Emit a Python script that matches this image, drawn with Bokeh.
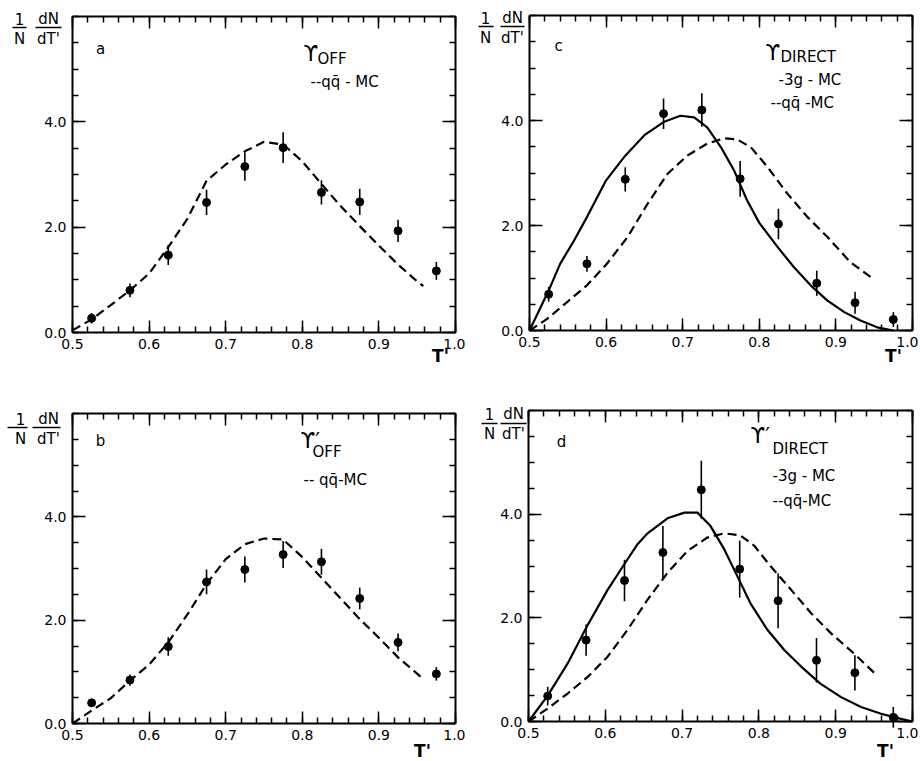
from bokeh.plotting import figure
from bokeh.models import (Range1d, LinearAxis, FixedTicker, PrintfTickFormatter,
                          CustomJSTickFormatter, Label, BoxAnnotation, ColumnDataSource)
from bokeh.layouts import column, row
from bokeh.embed import file_html
from bokeh.resources import INLINE

FONT = "DejaVu Sans"

# ---------------- data ----------------
T_BINS = [0.525, 0.575, 0.625, 0.675, 0.725, 0.775, 0.825, 0.875, 0.925, 0.975]

# panel a : Upsilon OFF
A_Y = [0.27, 0.80, 1.47, 2.47, 3.15, 3.51, 2.66, 2.48, 1.93, 1.17]
A_ERR = [0.10, 0.13, 0.19, 0.24, 0.27, 0.29, 0.23, 0.25, 0.21, 0.17]
A_QQ_X = [0.500, 0.525, 0.550, 0.575, 0.600, 0.625, 0.650, 0.675, 0.700, 0.725,
          0.750, 0.775, 0.800, 0.825, 0.850, 0.875, 0.900, 0.925, 0.950, 0.958]
A_QQ_Y = [0.04, 0.25, 0.52, 0.80, 1.12, 1.62, 2.16, 2.88, 3.19, 3.44,
          3.62, 3.57, 3.25, 2.82, 2.40, 2.02, 1.65, 1.29, 0.97, 0.88]

# panel b : Upsilon' OFF
B_Y = [0.40, 0.84, 1.49, 2.74, 2.98, 3.27, 3.13, 2.42, 1.57, 0.96]
B_ERR = [0.08, 0.11, 0.18, 0.24, 0.25, 0.26, 0.25, 0.21, 0.17, 0.13]
B_QQ_X = [0.500, 0.525, 0.550, 0.575, 0.600, 0.625, 0.650, 0.675, 0.700, 0.725,
          0.750, 0.775, 0.800, 0.825, 0.850, 0.875, 0.900, 0.925, 0.955]
B_QQ_Y = [0.00, 0.25, 0.49, 0.83, 1.14, 1.57, 2.11, 2.70, 3.18, 3.47,
          3.58, 3.56, 3.22, 2.82, 2.42, 2.02, 1.66, 1.28, 0.90]

# panel c : Upsilon DIRECT
C_Y = [0.69, 1.27, 2.88, 4.13, 4.20, 2.89, 2.03, 0.90, 0.53, 0.21]
C_ERR = [0.14, 0.15, 0.23, 0.29, 0.32, 0.34, 0.29, 0.24, 0.21, 0.14]
C_3G_X = [0.500, 0.525, 0.540, 0.558, 0.575, 0.600, 0.625, 0.650, 0.675, 0.697,
          0.715, 0.732, 0.750, 0.767, 0.784, 0.800, 0.825, 0.845, 0.867, 0.889,
          0.911, 0.932, 0.954, 0.975]
C_3G_Y = [0.00, 0.76, 1.27, 1.71, 2.16, 2.86, 3.33, 3.72, 3.97, 4.09,
          4.06, 3.87, 3.49, 3.05, 2.48, 2.05, 1.57, 1.21, 0.86, 0.57,
          0.35, 0.19, 0.06, 0.00]
C_QQ_X = [0.500, 0.523, 0.549, 0.575, 0.601, 0.628, 0.654, 0.680, 0.706, 0.732,
          0.754, 0.771, 0.789, 0.811, 0.837, 0.863, 0.889, 0.919, 0.949]
C_QQ_Y = [0.00, 0.22, 0.54, 0.86, 1.27, 1.78, 2.41, 2.98, 3.33, 3.56,
          3.66, 3.64, 3.49, 3.11, 2.60, 2.16, 1.78, 1.30, 0.98]

# panel d : Upsilon' DIRECT
D_Y = [0.49, 1.57, 2.72, 3.26, 4.47, 2.94, 2.33, 1.18, 0.94, 0.08]
D_ERR = [0.18, 0.30, 0.40, 0.51, 0.56, 0.55, 0.53, 0.43, 0.34, 0.20]
D_3G_X = [0.500, 0.525, 0.551, 0.577, 0.603, 0.629, 0.642, 0.655, 0.681, 0.703,
          0.720, 0.737, 0.755, 0.772, 0.789, 0.811, 0.833, 0.855, 0.880, 0.907,
          0.933, 0.959, 0.985, 1.000]
D_3G_Y = [0.00, 0.50, 1.12, 1.86, 2.54, 3.13, 3.42, 3.63, 3.92, 4.03,
          4.03, 3.77, 3.32, 2.80, 2.28, 1.77, 1.38, 1.06, 0.73, 0.47,
          0.28, 0.15, 0.05, 0.00]
D_QQ_X = [0.500, 0.525, 0.551, 0.577, 0.603, 0.629, 0.655, 0.681, 0.707, 0.733,
          0.755, 0.776, 0.794, 0.815, 0.842, 0.868, 0.894, 0.924, 0.950]
D_QQ_Y = [0.00, 0.25, 0.54, 0.86, 1.25, 1.77, 2.35, 2.87, 3.29, 3.55,
          3.63, 3.59, 3.39, 3.00, 2.54, 2.09, 1.70, 1.31, 0.94]

X_MAJOR = [0.5, 0.6, 0.7, 0.8, 0.9, 1.0]
X_MINOR = [round(0.5 + 0.02 * i, 2) for i in range(26)]
Y_MAJOR = [0.0, 2.0, 4.0]
Y_MINOR = [0.5 * i for i in range(13)]
X_LIM = (0.5, 1.0)
Y_LIM = (0.0, 6.0)


def make_panel(canvas, box, ys, errs, qq_x, qq_y, g3_x=None, g3_y=None,
               texts=(), frac=None, tlabel=None):
    """canvas / box = (left, top, right, bottom) in page pixels; the axes
    box is drawn with the library's axes placed at the data limits."""
    cx0, cy0, cx1, cy1 = canvas
    bx0, by0, bx1, by1 = box
    ppx = (bx1 - bx0) / (X_LIM[1] - X_LIM[0])
    ppy = (by1 - by0) / (Y_LIM[1] - Y_LIM[0])
    xr = Range1d(X_LIM[0] - (bx0 - cx0) / ppx, X_LIM[1] + (cx1 - bx1) / ppx)
    yr = Range1d(Y_LIM[0] - (cy1 - by1) / ppy, Y_LIM[1] + (by0 - cy0) / ppy)

    p = figure(x_range=xr, y_range=yr, width=cx1 - cx0, height=cy1 - cy0,
               min_border=0, min_border_left=0, min_border_right=0,
               min_border_top=0, min_border_bottom=0,
               x_axis_location=None, y_axis_location=None,
               output_backend="svg", toolbar_location=None,
               background_fill_color="white", border_fill_color="white")
    p.grid.visible = False
    p.outline_line_color = None

    def style(ax, major_in):
        ax.axis_line_width = 2
        ax.major_tick_in = major_in
        ax.major_tick_out = 0
        ax.minor_tick_in = 6
        ax.minor_tick_out = 0
        ax.major_tick_line_width = 1.5
        ax.minor_tick_line_width = 1.5
        ax.major_label_text_font = FONT
        ax.major_label_text_font_size = "14px"
        ax.major_label_text_color = "black"

    xt = FixedTicker(ticks=X_MAJOR, minor_ticks=X_MINOR)
    yt = FixedTicker(ticks=Y_MAJOR, minor_ticks=Y_MINOR)
    bottom = LinearAxis(ticker=xt, formatter=PrintfTickFormatter(format="%.1f"),
                        fixed_location=Y_LIM[0], bounds=X_LIM)
    style(bottom, 12)
    bottom.major_label_standoff = 6
    p.add_layout(bottom, "below")
    left = LinearAxis(ticker=yt, formatter=PrintfTickFormatter(format="%.1f"),
                      fixed_location=X_LIM[0], bounds=Y_LIM)
    style(left, 13)
    left.major_label_standoff = 6
    p.add_layout(left, "left")
    top = LinearAxis(ticker=xt, formatter=CustomJSTickFormatter(code="return ''"),
                     fixed_location=Y_LIM[1], bounds=X_LIM)
    style(top, 12)
    p.add_layout(top, "above")
    right = LinearAxis(ticker=yt, formatter=CustomJSTickFormatter(code="return ''"),
                       fixed_location=X_LIM[1], bounds=Y_LIM)
    style(right, 13)
    p.add_layout(right, "right")

    # curves
    p.line(qq_x, qq_y, line_color="black", line_width=2.2, line_dash="9 5")
    if g3_x is not None:
        p.line(g3_x, g3_y, line_color="black", line_width=2.2)

    # data with error bars
    src = ColumnDataSource(dict(
        x=T_BINS, y=ys,
        lo=[v - e for v, e in zip(ys, errs)],
        hi=[v + e for v, e in zip(ys, errs)]))
    p.segment(x0="x", y0="lo", x1="x", y1="hi", source=src,
              line_color="black", line_width=1.6)
    p.scatter(x="x", y="y", source=src, size=8, color="black")

    # offsets (pixels from the box's top-left corner) -> data coordinates
    def at(dx, dy):
        return X_LIM[0] + dx / ppx, Y_LIM[1] - dy / ppy

    def label(txt, dx, dy, size, align="left", bold=False):
        x, y = at(dx, dy)
        p.add_layout(Label(x=x, y=y, text=txt, text_font=FONT,
                           text_font_size=f"{size}px", text_align=align,
                           text_baseline="middle", text_color="black",
                           text_font_style="bold" if bold else "normal"))

    for (txt, dx, dy, size, align) in texts:
        label(txt, dx, dy, size, align)

    if frac is not None:
        (cols, ny_top, ny_bot, bar1, bar2, bar_y) = frac
        label("1", cols[0], ny_top, 15, "center")
        label("N", cols[0], ny_bot, 15, "center")
        label("dN", cols[1], ny_top, 15, "center")
        label("dT'", cols[1], ny_bot, 15, "center")
        for (a0, a1) in (bar1, bar2):
            x0, y0 = at(a0, bar_y - 0.8)
            x1, y1 = at(a1, bar_y + 0.8)
            p.add_layout(BoxAnnotation(left=x0, right=x1, bottom=y1, top=y0,
                                       fill_color="black", fill_alpha=1.0,
                                       line_color=None, level="overlay"))

    if tlabel is not None:
        label("T'", tlabel[0], tlabel[1], 17, "center", bold=True)
    return p


pa = make_panel((0, 0, 465, 377), (72, 16, 455, 332),
                A_Y, A_ERR, A_QQ_X, A_QQ_Y,
                texts=[("a", 28, 32, 15, "center"),
                       ("ϒ", 231, 37, 21, "left"),
                       ("OFF", 245, 42, 15, "left"),
                       ("--qq̄ - MC", 238, 65, 15, "left")],
                frac=((-53, -24), 2, 22, (-60, -46), (-37, -11), 11),
                tlabel=(368, 316 + 23))

pc = make_panel((465, 0, 918, 377), (529, 15, 912, 330),
                C_Y, C_ERR, C_QQ_X, C_QQ_Y, C_3G_X, C_3G_Y,
                texts=[("c", 29, 30, 15, "center"),
                       ("ϒ", 236, 37, 21, "left"),
                       ("DIRECT", 251, 41, 15, "left"),
                       ("-3g - MC", 249, 64, 15, "left"),
                       ("--qq̄ -MC", 241, 87, 15, "left")],
                frac=((-44, -17), 2, 22, (-51, -36), (-29, -5), 11),
                tlabel=(364, 315 + 25))

pb = make_panel((0, 377, 465, 759), (72, 413, 455, 723),
                B_Y, B_ERR, B_QQ_X, B_QQ_Y,
                texts=[("b", 28, 27, 15, "center"),
                       ("ϒ′", 228, 27, 21, "left"),
                       ("OFF", 240, 38, 15, "left"),
                       ("-- qq̄-MC", 231, 66, 15, "left")],
                frac=((-52, -24), 5, 25, (-65, -45), (-40, -12), 14),
                tlabel=(350, 310 + 27))

pd_ = make_panel((465, 377, 918, 759), (528, 410, 912, 721),
                 D_Y, D_ERR, D_QQ_X, D_QQ_Y, D_3G_X, D_3G_Y,
                 texts=[("d", 33, 31, 15, "center"),
                        ("ϒ′", 222, 25, 21, "left"),
                        ("DIRECT", 244, 38, 15, "left"),
                        ("-3g - MC", 244, 65, 15, "left"),
                        ("--qq̄-MC", 244, 90, 15, "left")],
                 frac=((-39, -15), 3, 23, (-47, -31), (-28, -2), 13),
                 tlabel=(357, 311 + 29))

layout = column(row(pa, pc), row(pb, pd_))

open("out.html", "w").write(file_html(layout, INLINE))
